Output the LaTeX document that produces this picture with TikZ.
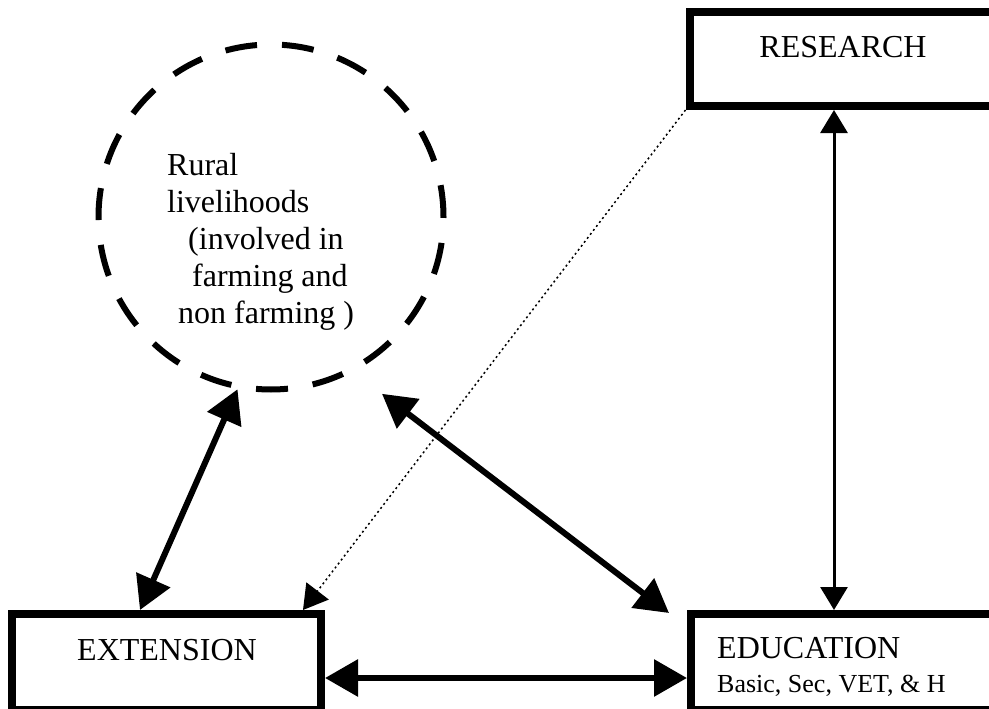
\documentclass[tikz,border=0pt]{standalone}
\usepackage{fontspec}
\setmainfont{Liberation Serif}
\usetikzlibrary{arrows.meta}

\begin{document}
\begin{tikzpicture}[x=1pt,y=-1pt,
  box/.style={draw, line width=8pt, minimum width=309pt, minimum height=96pt, inner sep=0pt},
  lbl/.style={font=\fontsize{32}{37}\selectfont, inner sep=0pt},
  sublbl/.style={font=\fontsize{26}{30}\selectfont, inner sep=0pt},
  bigarrow/.style={line width=6pt, {Triangle[length=33pt,width=36pt]}-{Triangle[length=33pt,width=36pt]}},
  thinarrow/.style={line width=3pt, {Triangle[length=23pt,width=27pt]}-{Triangle[length=23pt,width=27pt]}}]
\clip (0,0) rectangle (989,709);

% the three boxes
\node[box, minimum height=94pt] (research) at (844,59) {};
\node[box] (ext) at (166.5,662) {};
\node[box] (edu) at (845.5,662) {};

% the dashed circle
\node[circle, draw, line width=6pt, dash pattern=on 32pt off 25pt, minimum size=345pt, inner sep=0pt] (rural) at (271,217) {};

\node[lbl, anchor=base] (restext) at (843,58) {RESEARCH};
\node[lbl, anchor=base] (exttext) at (167,660) {EXTENSION};
\node[lbl, anchor=base west] (edutext) at (717,658) {EDUCATION};
\node[sublbl, anchor=base west] (edusub) at (717,692) {Basic, Sec, VET, \& H};
\node[lbl, anchor=north west, align=left] (ruraltext) at (167,153)
  {Rural\\livelihoods\\\hspace*{21pt}(involved in\\\hspace*{25pt}farming and\\\hspace*{11pt}non farming )};

% connectors
\draw[bigarrow] (rural.259) -- ([xshift=-26.5pt]ext.north);
\draw[bigarrow, shorten <=36pt] (rural.298) -- ([xshift=-18pt,yshift=-3pt]edu.north west);
\draw[bigarrow] ([yshift=-16pt]ext.east) -- ([yshift=-16pt]edu.west);
\draw[thinarrow] ([xshift=-10pt]research.south) -- ([xshift=-11.5pt]edu.north);
\draw[line width=1.5pt, dash pattern=on 2pt off 3pt, -{Triangle[length=24pt,width=28pt]}] (research.south west) -- ([xshift=-22pt]ext.north east);

\end{tikzpicture}
\end{document}
